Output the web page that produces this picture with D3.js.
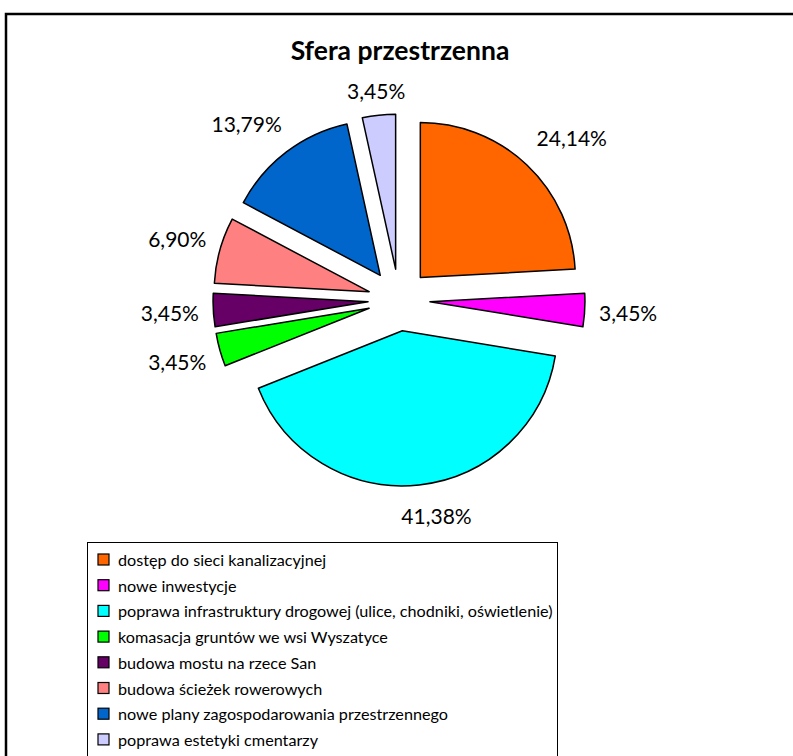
<!DOCTYPE html>
<html lang="pl">
<head>
<meta charset="utf-8">
<title>Sfera przestrzenna</title>
<script src="https://d3js.org/d3.v7.min.js"></script>
<style>
  body { margin: 0; background: #fff; }
  svg text { font-family: Lato, "Open Sans", sans-serif; fill: #000; }
</style>
</head>
<body>
<script>
// data (percent of answers)
var categories = [
  "dostęp do sieci kanalizacyjnej",
  "nowe inwestycje",
  "poprawa infrastruktury drogowej (ulice, chodniki, oświetlenie)",
  "komasacja gruntów we wsi Wyszatyce",
  "budowa mostu na rzece San",
  "budowa ścieżek rowerowych",
  "nowe plany zagospodarowania przestrzennego",
  "poprawa estetyki cmentarzy"
];
var values = [24.14, 3.45, 41.38, 3.45, 3.45, 6.90, 13.79, 3.45];
var colors = ["#FF6600", "#FF00FF", "#00FFFF", "#00FF00", "#660066", "#FF8080", "#0066CC", "#CCCCFF"];
var title = "Sfera przestrzenna";

var w = 793, h = 756;
var cx = 399, cy = 300;   // pie centre
var r = 155;              // radius
var explode = 31;         // every slice pulled out by this much
var labelR = 200;

var svg = d3.select("body").append("svg")
    .attr("width", w)
    .attr("height", h);

// outer chart frame (runs off the right and bottom edge)
svg.append("rect")
    .attr("x", 6).attr("y", 14)
    .attr("width", 820).attr("height", 780)
    .attr("fill", "none")
    .attr("stroke", "#000")
    .attr("stroke-width", 2.5);

svg.append("text")
    .attr("x", 400).attr("y", 60)
    .attr("text-anchor", "middle")
    .style("font-size", "26.5px")
    .style("font-weight", "bold")
    .text(title);

var pie = d3.pie().sort(null).value(function(d) { return d; });
var arc = d3.arc().innerRadius(0).outerRadius(r);
var arcs = pie(values);

var fmt = function(v) { return v.toFixed(2).replace(".", ",") + "%"; };

var g = svg.append("g").attr("transform", "translate(" + cx + "," + cy + ")");

g.selectAll("path")
    .data(arcs)
    .enter()
    .append("path")
    .attr("d", arc)
    .attr("transform", function(d) {
        var a = (d.startAngle + d.endAngle) / 2;
        return "translate(" + (explode * Math.sin(a)) + "," + (-explode * Math.cos(a)) + ")";
    })
    .attr("fill", function(d, i) { return colors[i]; })
    .attr("stroke", "#000")
    .attr("stroke-width", 1.5)
    .attr("stroke-linejoin", "round");

// labels: box edge sits on a circle of radius labelR,
// wider labels slide sideways away from the pie
var labels = g.selectAll("text.lbl")
    .data(arcs)
    .enter()
    .append("text")
    .attr("class", "lbl")
    .attr("text-anchor", "middle")
    .attr("dy", "0.35em")
    .style("font-size", "21px")
    .text(function(d) { return fmt(d.value); });

var widths = [];
labels.each(function() { widths.push(this.getComputedTextLength()); });
var minW = d3.min(widths);

labels.each(function(d, i) {
    var a = (d.startAngle + d.endAngle) / 2;
    var bw = widths[i];
    var bh = 16;
    var s = Math.sin(a), c = -Math.cos(a);
    var rr = labelR + Math.abs(s) * bw / 2 + Math.abs(c) * bh / 2;
    var x = rr * s + Math.sign(s) * (bw - minW) * 1.2;
    var y = rr * c + (bw > minW ? 6 : 1);
    d3.select(this).attr("x", x).attr("y", y);
});

// legend
var lg = svg.append("g");
lg.append("rect")
    .attr("x", 87.5).attr("y", 542.5)
    .attr("width", 470).attr("height", 240)
    .attr("fill", "#fff")
    .attr("stroke", "#000")
    .attr("stroke-width", 1);

var row = d3.scaleLinear().domain([0, 1]).range([566, 591.7]);
var items = lg.selectAll("g.item")
    .data(categories)
    .enter()
    .append("g")
    .attr("class", "item")
    .attr("transform", function(d, i) { return "translate(0," + row(i) + ")"; });

items.append("rect")
    .attr("x", 98).attr("y", -12)
    .attr("width", 11).attr("height", 11)
    .attr("fill", function(d, i) { return colors[i]; })
    .attr("stroke", "#000")
    .attr("stroke-width", 1.2);

items.append("text")
    .attr("x", 118)
    .style("font-size", "16.2px")
    .text(function(d) { return d; });
</script>
</body>
</html>
